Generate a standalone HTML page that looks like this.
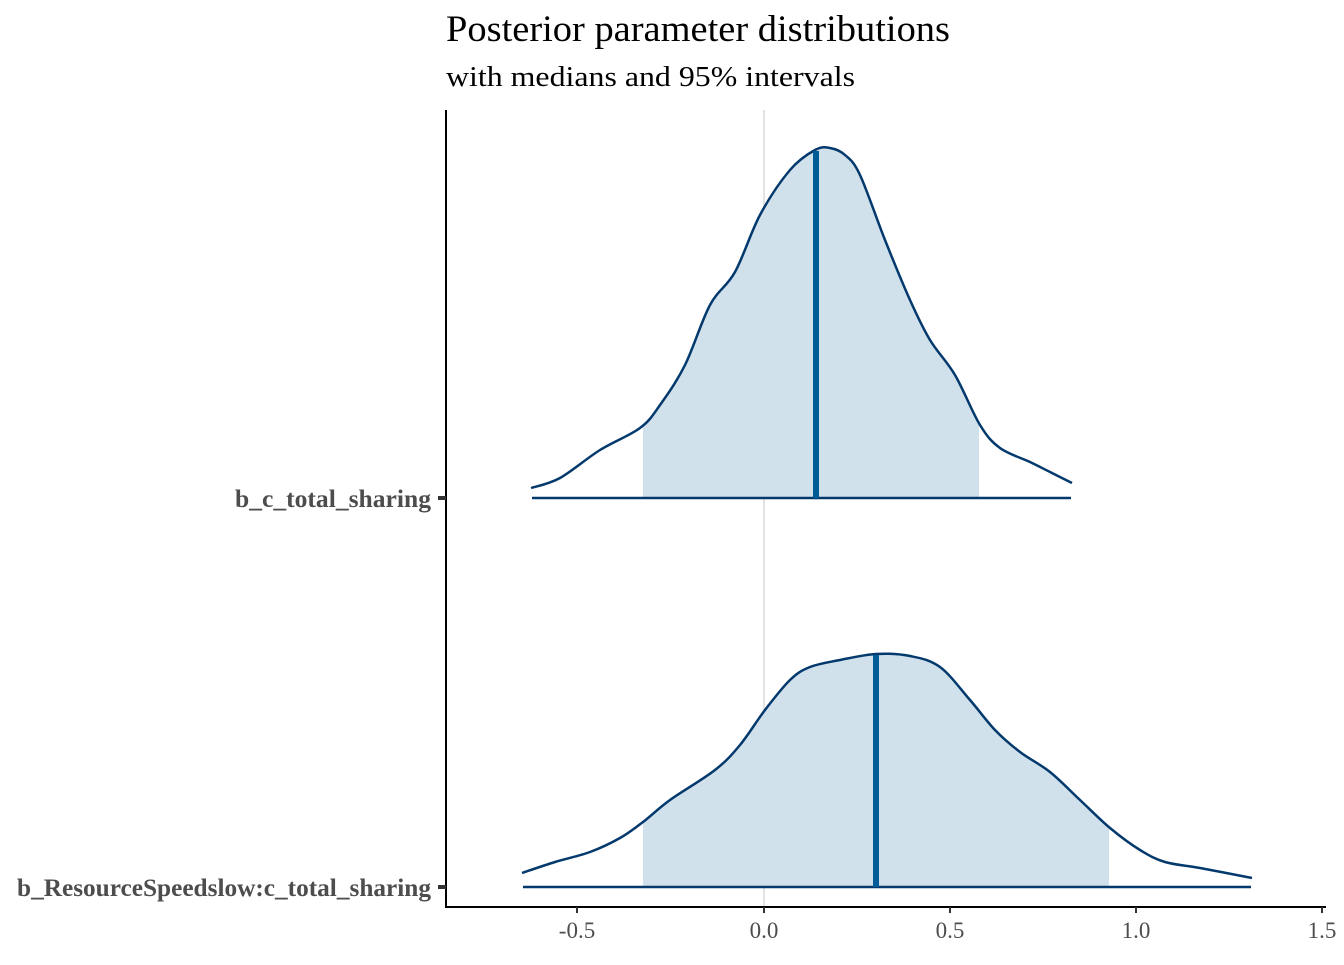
<!DOCTYPE html>
<html><head><style>body{margin:0;background:#fff}</style></head><body>
<svg width="1344" height="960" xmlns="http://www.w3.org/2000/svg" font-family="Liberation Serif, serif">
<defs>
<clipPath id="c1"><rect x="643" y="0" width="336" height="960"/></clipPath>
<clipPath id="c2"><rect x="643" y="0" width="466" height="960"/></clipPath>
</defs>
<text x="446" y="41" font-size="37" fill="#000" textLength="504" lengthAdjust="spacingAndGlyphs">Posterior parameter distributions</text>
<text x="446" y="86" font-size="29" fill="#000" textLength="409" lengthAdjust="spacingAndGlyphs">with medians and 95% intervals</text>
<line x1="764" y1="110" x2="764" y2="906" stroke="#e3e3e3" stroke-width="2"/>
<path id="f1" clip-path="url(#c1)" fill="#d1e1ec"/>
<path id="l1" fill="none" stroke="#03396c" stroke-width="2.5" stroke-linejoin="round"/>
<line x1="532" y1="498" x2="1071" y2="498" stroke="#03396c" stroke-width="2.5"/>
<line x1="816" y1="151" x2="816" y2="498" stroke="#005b96" stroke-width="6"/>
<path id="f2" clip-path="url(#c2)" fill="#d1e1ec"/>
<path id="l2" fill="none" stroke="#03396c" stroke-width="2.5" stroke-linejoin="round"/>
<line x1="523" y1="887" x2="1251" y2="887" stroke="#03396c" stroke-width="2.5"/>
<line x1="876" y1="655" x2="876" y2="887" stroke="#005b96" stroke-width="6"/>
<line x1="446" y1="110" x2="446" y2="907" stroke="#000" stroke-width="2"/>
<line x1="445" y1="907" x2="1326" y2="907" stroke="#000" stroke-width="2"/>
<g stroke="#333" stroke-width="4"><line x1="438" y1="498" x2="446" y2="498"/><line x1="438" y1="887" x2="446" y2="887"/></g>
<g stroke="#333" stroke-width="2"><line x1="577" y1="907" x2="577" y2="913"/><line x1="764" y1="907" x2="764" y2="913"/><line x1="950" y1="907" x2="950" y2="913"/><line x1="1136" y1="907" x2="1136" y2="913"/><line x1="1322" y1="907" x2="1322" y2="913"/></g>
<g font-size="23" fill="#4d4d4d" text-anchor="middle"><text x="577" y="938">-0.5</text><text x="764" y="938">0.0</text><text x="950" y="938">0.5</text><text x="1136" y="938">1.0</text><text x="1322" y="938">1.5</text></g>
<g font-size="25" fill="#4d4d4d" font-weight="bold" text-anchor="end"><text x="431" y="507" textLength="196" lengthAdjust="spacingAndGlyphs">b_c_total_sharing</text><text x="431" y="896" textLength="414" lengthAdjust="spacingAndGlyphs">b_ResourceSpeedslow:c_total_sharing</text></g>
</svg>
<script>
function cr(p){var d="M"+p[0][0]+","+p[0][1];for(var i=0;i<p.length-1;i++){var a=p[i-1]||p[i],b=p[i],c=p[i+1],e=p[i+2]||c;d+=" C"+(b[0]+(c[0]-a[0])/6)+","+(b[1]+(c[1]-a[1])/6)+" "+(c[0]-(e[0]-b[0])/6)+","+(c[1]-(e[1]-b[1])/6)+" "+c[0]+","+c[1];}return d;}
var p1=[[531,488],[560,478],[600,450],[640,428],[660,405],[685,365],[710,305],[735,272],[760,215],[790,170],[815,150],[830,148],[845,155],[860,175],[885,240],[910,300],[930,340],[955,375],[980,425],[1000,448],[1030,462],[1050,472],[1072,483]];
var p2=[[522,873],[555,862],[590,852],[620,838],[643,822],[670,800],[715,770],[740,745],[765,710],[790,680],[810,667],[840,660],[876,654],[910,656],[940,667],[970,700],[995,730],[1020,752],[1050,772],[1080,800],[1110,828],[1140,850],[1165,862],[1200,868],[1252,878]];
var d1=cr(p1),d2=cr(p2);
document.getElementById("l1").setAttribute("d",d1);
document.getElementById("f1").setAttribute("d",d1+" L1072,498 L531,498 Z");
document.getElementById("l2").setAttribute("d",d2);
document.getElementById("f2").setAttribute("d",d2+" L1252,887 L522,887 Z");
</script>
</body></html>
